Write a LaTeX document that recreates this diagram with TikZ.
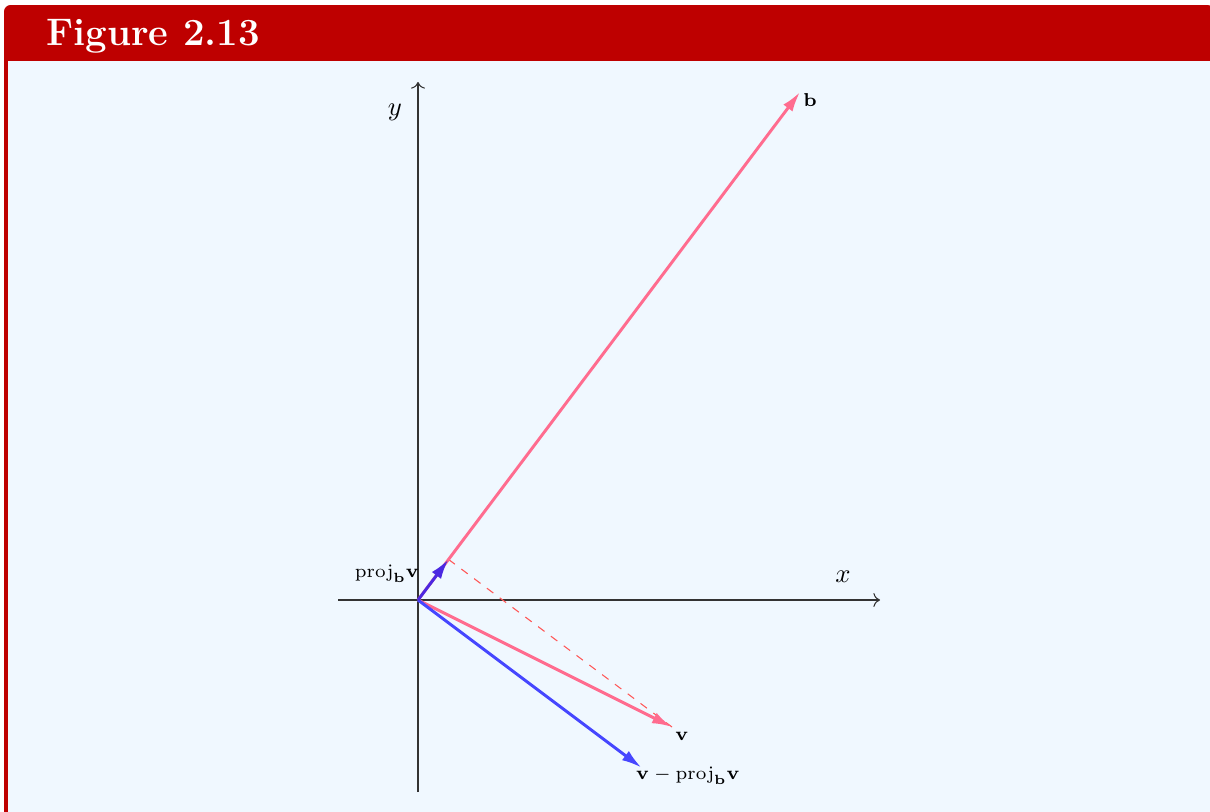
\documentclass[tikz,border=0pt]{standalone}
\usetikzlibrary{arrows.meta}
\definecolor{framered}{RGB}{190,0,0}
\definecolor{bgblue}{RGB}{240,248,255}
\definecolor{vpink}{RGB}{255,108,143}
\definecolor{vblue}{RGB}{70,70,255}
\definecolor{vproj}{RGB}{75,40,225}
\definecolor{dashred}{RGB}{255,90,90}
\begin{document}
\begin{tikzpicture}[x=0.375pt,y=-0.375pt,
  vec/.style={line width=1.1pt,-{Latex[length=7.5pt,width=4.3pt]}},
  axis/.style={line width=0.4pt,color=black!80,->},
  lbl/.style={font=\scriptsize, inner sep=0pt},
  axlbl/.style={font=\normalsize, inner sep=0pt}]
\useasboundingbox (0,0) rectangle (1210,811);
\fill[white] (0,0) rectangle (1210,811);
\fill[framered, rounded corners=2.5pt] (4,5) rectangle (1214,830);
\fill[bgblue] (8,61) rectangle (1214,830);
\node[anchor=base west, text=white, font=\Large\bfseries, inner sep=0pt] (title) at (46,45) {Figure 2.13};
% points
\coordinate (O) at (418,600);
\coordinate (B) at (800,92);
\coordinate (V) at (672,727);
\coordinate (P) at (448.5,559.4);
\coordinate (W) at (641.5,767.6);
\coordinate (xs) at (338,600);
\coordinate (xe) at (880,600);
\coordinate (ys) at (418,792);
\coordinate (ye) at (418,82);
% axes
\draw[axis] (xs) -- (xe);
\draw[axis] (ys) -- (ye);
\node[axlbl] (xl) at (843,577) {$x$};
\node[axlbl] (yl) at (395,112) {$y$};
% dashed
\draw[dashred, dashed, line width=0.4pt] (P) -- (V);
% vectors
\draw[vec, vpink] (O) -- (B);
\draw[vec, vpink] (O) -- (V);
\draw[vec, vblue] (O) -- (W);
\draw[vec, vproj] (O) -- (P);
% labels
\node[lbl] (bl) at (810,100) {$\mathbf{b}$};
\node[lbl] (vl) at (682,736) {$\mathbf{v}$};
\node[lbl] (wl) at (688,776) {$\mathbf{v}-\mathrm{proj}_{\mathbf{b}}\mathbf{v}$};
\node[lbl] (pl) at (387,574) {$\mathrm{proj}_{\mathbf{b}}\mathbf{v}$};
\end{tikzpicture}
\end{document}
